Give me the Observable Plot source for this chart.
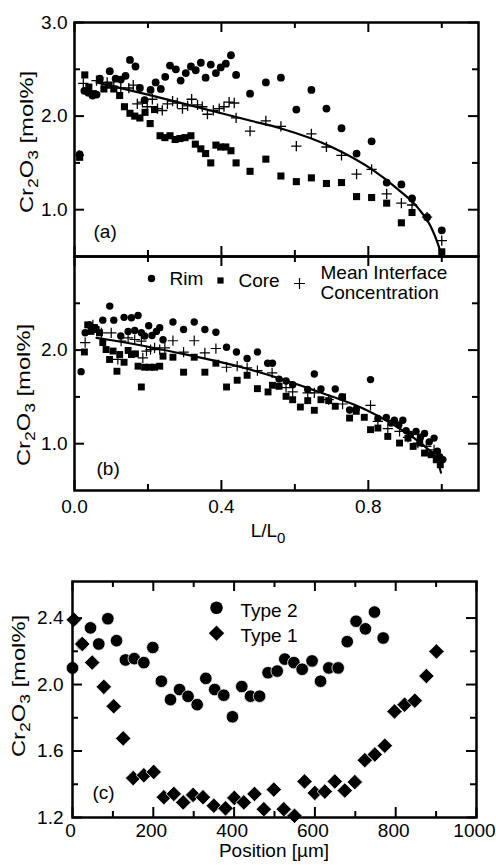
<!DOCTYPE html>
<html><head><meta charset="utf-8">
<script src="https://cdn.jsdelivr.net/npm/d3@7"></script>
<script src="https://cdn.jsdelivr.net/npm/@observablehq/plot@0.6"></script>
<style>
body{margin:0;background:#fff;}
#root{position:relative;width:496px;height:865px;overflow:hidden;background:#fff;}
#root svg{position:absolute;left:0;overflow:visible;}
</style></head><body><div id="root"></div>
<script>
// ---------- Panel (a) data: [L/L0, Cr2O3 mol%] ----------
const aRim = [[0.014,1.59],[0.027,2.27],[0.038,2.25],[0.049,2.22],[0.06,2.23],[0.069,2.40],[0.096,2.48],[0.112,2.40],[0.126,2.39],[0.139,2.43],[0.151,2.60],[0.166,2.53],[0.178,2.30],[0.191,2.17],[0.207,2.28],[0.221,2.36],[0.235,2.29],[0.247,2.42],[0.260,2.54],[0.276,2.50],[0.289,2.38],[0.303,2.46],[0.317,2.53],[0.330,2.49],[0.344,2.57],[0.357,2.41],[0.371,2.55],[0.385,2.46],[0.398,2.52],[0.412,2.56],[0.426,2.65],[0.440,2.44],[0.478,2.24],[0.521,2.36],[0.562,2.41],[0.604,2.07],[0.645,2.28],[0.686,2.08],[0.727,1.87],[0.768,1.60],[0.809,1.73],[0.850,1.29],[0.890,1.27],[0.919,1.12],[0.960,0.92],[1.000,0.78]];
const aCore = [[0.014,1.56],[0.028,2.44],[0.039,2.31],[0.051,2.24],[0.080,2.29],[0.094,2.33],[0.107,2.29],[0.123,2.22],[0.136,2.10],[0.151,2.03],[0.164,2.00],[0.178,1.98],[0.192,2.04],[0.206,1.92],[0.218,2.07],[0.233,1.79],[0.246,1.77],[0.260,1.79],[0.274,1.75],[0.287,1.76],[0.301,1.77],[0.317,1.79],[0.329,1.70],[0.344,1.65],[0.357,1.60],[0.371,1.50],[0.385,1.69],[0.398,1.67],[0.412,1.67],[0.426,1.63],[0.440,1.50],[0.478,1.41],[0.521,1.54],[0.562,1.36],[0.604,1.30],[0.645,1.34],[0.686,1.28],[0.727,1.29],[0.768,1.14],[0.809,1.13],[0.850,1.07],[0.890,0.86],[0.919,0.97],[1.000,0.55]];
const aMean = [[0.012,1.58],[0.024,2.35],[0.060,2.38],[0.075,2.36],[0.089,2.36],[0.107,2.31],[0.126,2.30],[0.148,2.30],[0.160,2.33],[0.171,2.13],[0.185,2.15],[0.198,2.10],[0.212,2.18],[0.226,2.08],[0.239,2.06],[0.253,2.13],[0.267,2.16],[0.280,2.14],[0.294,2.08],[0.308,2.11],[0.319,2.18],[0.335,2.12],[0.348,2.10],[0.362,2.02],[0.378,2.06],[0.394,2.08],[0.407,2.10],[0.421,2.15],[0.435,2.14],[0.440,1.98],[0.478,1.84],[0.521,1.95],[0.562,1.89],[0.604,1.68],[0.645,1.81],[0.686,1.67],[0.727,1.58],[0.768,1.38],[0.809,1.43],[0.850,1.17],[0.890,1.07],[0.919,1.05],[0.960,0.92],[1.000,0.67]];
const aFit = [[0.06,2.36],[0.20,2.23],[0.34,2.09],[0.48,1.95],[0.56,1.87],[0.70,1.67],[0.81,1.43],[0.88,1.22],[0.935,1.02],[0.97,0.82],[0.99,0.63],[1.0,0.5]];

// ---------- Panel (b) data ----------
const bRim = [[0.018,1.77],[0.029,2.185],[0.041,2.27],[0.055,2.24],[0.077,2.32],[0.096,2.47],[0.107,2.32],[0.126,2.15],[0.135,2.35],[0.146,2.20],[0.155,2.345],[0.164,2.21],[0.173,2.37],[0.182,2.185],[0.191,2.15],[0.202,2.26],[0.211,2.156],[0.223,2.20],[0.232,2.24],[0.241,2.11],[0.268,2.30],[0.297,2.22],[0.326,2.30],[0.355,2.22],[0.385,2.19],[0.414,2.03],[0.441,1.98],[0.470,1.91],[0.498,1.98],[0.526,1.86],[0.539,1.86],[0.557,1.69],[0.576,1.67],[0.594,1.63],[0.635,1.58],[0.653,1.745],[0.671,1.585],[0.710,1.585],[0.728,1.50],[0.749,1.36],[0.767,1.37],[0.806,1.685],[0.826,1.27],[0.849,1.28],[0.862,1.22],[0.871,1.25],[0.883,1.20],[0.894,1.25],[0.903,1.14],[0.915,1.10],[0.930,1.13],[0.942,1.07],[0.953,1.11],[0.966,1.02],[0.979,1.06],[0.988,0.92],[0.994,0.86],[1.003,0.83]];
const bCore = [[0.027,1.98],[0.036,2.27],[0.045,2.20],[0.059,2.22],[0.068,2.185],[0.077,2.08],[0.086,2.006],[0.0955,1.90],[0.105,1.99],[0.1155,1.774],[0.123,1.953],[0.135,1.87],[0.146,1.996],[0.155,1.953],[0.166,1.96],[0.173,1.828],[0.182,1.606],[0.191,1.817],[0.205,1.817],[0.218,1.817],[0.232,1.828],[0.241,1.935],[0.268,1.924],[0.297,1.764],[0.326,1.924],[0.355,1.764],[0.385,1.86],[0.414,1.606],[0.443,1.678],[0.470,1.731],[0.498,1.588],[0.527,1.553],[0.539,1.624],[0.557,1.613],[0.576,1.506],[0.594,1.47],[0.615,1.392],[0.635,1.46],[0.653,1.357],[0.671,1.47],[0.692,1.46],[0.710,1.40],[0.730,1.50],[0.749,1.274],[0.767,1.346],[0.789,1.282],[0.806,1.15],[0.826,1.167],[0.853,1.078],[0.885,1.007],[0.908,1.06],[0.922,0.971],[0.940,1.007],[0.953,0.90],[0.971,0.882],[0.985,0.828],[0.996,0.775]];
const bMean = [[0.029,2.08],[0.050,2.27],[0.073,2.185],[0.100,2.185],[0.118,1.90],[0.127,2.096],[0.146,2.13],[0.164,2.113],[0.182,2.096],[0.186,1.917],[0.196,1.988],[0.207,2.006],[0.218,2.024],[0.232,2.006],[0.246,2.024],[0.268,2.10],[0.297,1.978],[0.326,2.10],[0.355,1.97],[0.385,2.017],[0.414,1.817],[0.443,1.828],[0.470,1.81],[0.498,1.781],[0.538,1.756],[0.576,1.60],[0.594,1.553],[0.635,1.542],[0.653,1.542],[0.692,1.47],[0.730,1.424],[0.806,1.41],[0.826,1.239],[0.853,1.16],[0.885,1.132],[0.908,1.067],[0.935,1.007],[0.958,0.971],[0.979,0.935],[0.998,0.828]];
const bFit = [[0.06,2.13],[0.11,2.10],[0.27,1.98],[0.48,1.79],[0.66,1.56],[0.80,1.35],[0.89,1.15],[0.96,0.95],[0.985,0.85],[0.998,0.69]];

// ---------- Panel (c) data: [Position um, Cr2O3 mol%] ----------
const cType2 = [[0,2.10],[24,2.244],[44.6,2.341],[65,2.244],[87.5,2.396],[109,2.264],[131,2.148],[153,2.156],[176.6,2.132],[198.8,2.223],[220,2.02],[242.6,1.909],[264.9,1.97],[286,1.929],[308.6,1.879],[330,2.037],[352,1.97],[374.5,1.936],[396,1.806],[419,1.988],[440.6,1.93],[463,1.93],[484,2.071],[506.7,2.081],[525.5,2.153],[548,2.132],[568.5,2.092],[593,2.142],[614,2.02],[634.4,2.10],[657.6,2.10],[680,2.258],[702,2.381],[725,2.335],[747.5,2.436],[769,2.28]];
const cType1 = [[3.3,2.39],[24,2.244],[48.7,2.132],[77.5,1.986],[102,1.869],[125.5,1.676],[150.2,1.437],[176.6,1.454],[201,1.474],[226,1.322],[250.8,1.342],[274,1.291],[298.5,1.336],[323,1.322],[349.8,1.271],[378.7,1.255],[400.5,1.318],[424,1.291],[450.5,1.342],[473.6,1.25],[498.3,1.368],[523,1.25],[549.5,1.21],[574.3,1.417],[599.8,1.348],[624.5,1.356],[649.3,1.417],[674,1.362],[698.8,1.413],[723.5,1.545],[748.3,1.579],[773,1.632],[797,1.838],[822,1.879],[847.3,1.903],[876,2.051],[900.9,2.199]];

// ---------- Ticks ----------
const abXMajor = [0, 0.4, 0.8];
const abXMinor = [0.2, 0.6, 1.0];
const aYMajor = [1.0, 2.0, 3.0];
const bYMajor = [1.0, 2.0];
const abYMinor = [1.5, 2.5];
const cXMajor = [0, 200, 400, 600, 800, 1000];
const cXMinor = [100, 300, 500, 700, 900];
const cYMajor = [1.2, 1.6, 2.0, 2.4];
const cYMinor = [1.4, 1.8, 2.2];

const fontFamily = '"Liberation Sans", Arial, Helvetica, sans-serif';
const X = d => d[0], Y = d => d[1];
const f1 = d3.format(".1f");
const style = {fontFamily, fontSize: "19px", color: "black", overflow: "visible"};

// inward-pointing ticks on all four sides (tick marks inset to a short length)
function inTicks(xMaj, xMin, yMaj, yMin, innerW, innerH, big = 10, small = 6) {
  const o = {stroke: "black", strokeWidth: 2};
  const out = [];
  for (const [vals, s] of [[xMaj, big], [xMin, small]]) {
    out.push(Plot.tickX(vals, {...o, x: d => d, insetTop: innerH - s}));
    out.push(Plot.tickX(vals, {...o, x: d => d, insetBottom: innerH - s}));
  }
  for (const [vals, s] of [[yMaj, big], [yMin, small]]) {
    out.push(Plot.tickY(vals, {...o, y: d => d, insetRight: innerW - s}));
    out.push(Plot.tickY(vals, {...o, y: d => d, insetLeft: innerW - s}));
  }
  return out;
}

function richText(svg, x, y, parts, {rotate = 0, stretch = 1, sub = 14, shift = 5} = {}) {
  const t = d3.select(svg).append("text")
    .attr("transform", `translate(${x},${y})` + (rotate ? ` rotate(${rotate})` : "") + (stretch !== 1 ? ` scale(${stretch},1)` : ""))
    .attr("text-anchor", "middle")
    .attr("font-family", fontFamily).attr("font-size", 19).attr("fill", "black");
  let cur = 0;
  for (const p of parts) {
    const isSub = typeof p !== "string";
    const target = isSub ? shift : 0;
    t.append("tspan").attr("dy", target - cur).attr("font-size", isSub ? sub : 19).text(isSub ? p.sub : p);
    cur = target;
  }
}
const yTitle = ["Cr", {sub: "2"}, "O", {sub: "3"}, " [mol%]"];

const root = document.getElementById("root");

// ---------- Panel (a) ----------
const plotA = Plot.plot({
  width: 496, height: 256, marginLeft: 74, marginRight: 18, marginTop: 22, marginBottom: 0,
  x: {domain: [0, 1.1], axis: null}, y: {domain: [0.5, 3.0], axis: null}, style,
  marks: [
    Plot.line(aFit, {x: X, y: Y, curve: "monotone-x", stroke: "black", strokeWidth: 2.2}),
    Plot.dot(aCore, {x: X, y: Y, symbol: "square", r: 4, fill: "black", stroke: "none"}),
    Plot.dot(aRim, {x: X, y: Y, symbol: "circle", r: 3.9, fill: "black", stroke: "none"}),
    Plot.dot(aMean, {x: X, y: Y, symbol: "plus", r: 3.4, fill: "none", stroke: "black", strokeWidth: 1.3}),
    ...inTicks(abXMajor, abXMinor, aYMajor, abYMinor, 404, 234),
    Plot.axisY(aYMajor, {anchor: "left", tickSize: 0, tickPadding: 7, tickFormat: f1, label: null, fill: "black"}),
    Plot.frame({stroke: "black", strokeWidth: 2.5}),
    Plot.text(["(a)"], {text: d => d, frameAnchor: "bottom-left", dx: 19, dy: -25, textAnchor: "start", lineAnchor: "middle", fill: "black"})
  ]
});
plotA.style.top = "0px";
richText(plotA, 33, 142, yTitle, {rotate: -90, stretch: 1.25});

// ---------- Panel (b) ----------
const plotB = Plot.plot({
  width: 496, height: 300, marginLeft: 74, marginRight: 18, marginTop: 0, marginBottom: 66,
  x: {domain: [0, 1.1], axis: null}, y: {domain: [0.5, 3.0], axis: null}, style,
  marks: [
    Plot.line(bFit, {x: X, y: Y, curve: "monotone-x", stroke: "black", strokeWidth: 2.2}),
    Plot.dot(bCore, {x: X, y: Y, symbol: "square", r: 3.9, fill: "black", stroke: "none"}),
    Plot.dot(bRim, {x: X, y: Y, symbol: "circle", r: 3.7, fill: "black", stroke: "none"}),
    Plot.dot(bMean, {x: X, y: Y, symbol: "plus", r: 3.4, fill: "none", stroke: "black", strokeWidth: 1.2}),
    ...inTicks(abXMajor, abXMinor, bYMajor, abYMinor, 404, 234),
    Plot.axisY(bYMajor, {anchor: "left", tickSize: 0, tickPadding: 7, tickFormat: f1, label: null, fill: "black"}),
    Plot.axisX(abXMajor, {anchor: "bottom", tickSize: 0, tickPadding: 9, tickFormat: f1, label: null, fill: "black"}),
    Plot.frame({stroke: "black", strokeWidth: 2.5}),
    // legend
    Plot.dot([0], {frameAnchor: "top-left", dx: 77, dy: 22, symbol: "circle", r: 3.7, fill: "black"}),
    Plot.text(["Rim"], {text: d => d, frameAnchor: "top-left", dx: 95, dy: 22, textAnchor: "start", lineAnchor: "middle", fill: "black"}),
    Plot.dot([0], {frameAnchor: "top-left", dx: 146, dy: 24, symbol: "square", r: 3.5, fill: "black"}),
    Plot.text(["Core"], {text: d => d, frameAnchor: "top-left", dx: 164, dy: 24, textAnchor: "start", lineAnchor: "middle", fill: "black"}),
    Plot.dot([0], {frameAnchor: "top-left", dx: 225, dy: 27, symbol: "plus", r: 3.6, fill: "none", stroke: "black", strokeWidth: 1.2}),
    Plot.text(["Mean Interface\nConcentration"], {text: d => d, frameAnchor: "top-left", dx: 246, dy: 25.7, textAnchor: "start", lineAnchor: "middle", lineHeight: 1.05, fill: "black"}),
    Plot.text(["(b)"], {text: d => d, frameAnchor: "bottom-left", dx: 22, dy: -21.5, textAnchor: "start", lineAnchor: "middle", fill: "black"})
  ]
});
plotB.style.top = "256px";
richText(plotB, 30, 139, yTitle, {rotate: -90, stretch: 1.25});
richText(plotB, 268, 281, ["L/L", {sub: "0"}], {sub: 15, shift: 6});

// ---------- Panel (c) ----------
const plotC = Plot.plot({
  width: 496, height: 305, marginLeft: 72, marginRight: 20, marginTop: 21, marginBottom: 48,
  x: {domain: [0, 1000], axis: null}, y: {domain: [1.2, 2.62], axis: null}, style,
  marks: [
    Plot.dot(cType2, {x: X, y: Y, symbol: "circle", r: 6.3, fill: "black", stroke: "white", strokeWidth: 0.8}),
    Plot.dot(cType1, {x: X, y: Y, symbol: "diamond2", r: 7, fill: "black", stroke: "white", strokeWidth: 0.8}),
    ...inTicks(cXMajor, cXMinor, cYMajor, cYMinor, 404, 236, 10, 6),
    Plot.axisY(cYMajor, {anchor: "left", tickSize: 0, tickPadding: 9, tickFormat: f1, label: null, fill: "black"}),
    Plot.axisX(cXMajor, {anchor: "bottom", tickSize: 0, tickPadding: 6, dx: -2, tickFormat: d => String(d), label: null, fill: "black"}),
    Plot.frame({stroke: "black", strokeWidth: 2.5}),
    Plot.dot([0], {frameAnchor: "top-left", dx: 144, dy: 26.3, symbol: "circle", r: 6.3, fill: "black"}),
    Plot.text(["Type 2"], {text: d => d, frameAnchor: "top-left", dx: 168, dy: 29, textAnchor: "start", lineAnchor: "middle", fill: "black"}),
    Plot.dot([0], {frameAnchor: "top-left", dx: 144, dy: 51.7, symbol: "diamond2", r: 6.8, fill: "black", stroke: "black", strokeWidth: 0.3}),
    Plot.text(["Type 1"], {text: d => d, frameAnchor: "top-left", dx: 168, dy: 54, textAnchor: "start", lineAnchor: "middle", fill: "black"}),
    Plot.text(["(c)"], {text: d => d, frameAnchor: "bottom-left", dx: 20, dy: -24.5, textAnchor: "start", lineAnchor: "middle", fill: "black"})
  ]
});
plotC.style.top = "560px";
richText(plotC, 25, 126, yTitle, {rotate: -90, stretch: 1.25});
richText(plotC, 274, 297, ["Position [µm]"]);

root.append(plotA, plotB, plotC);
</script></body></html>
